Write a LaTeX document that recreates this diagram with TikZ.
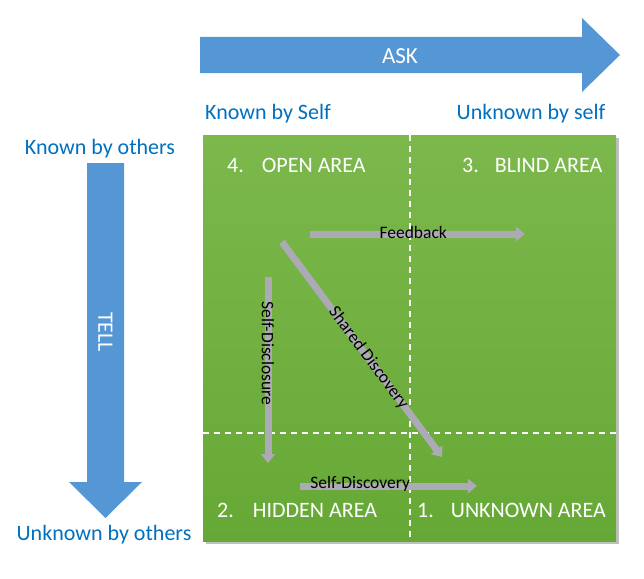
\documentclass[tikz,border=0pt]{standalone}
\usepackage{fontspec}
\setmainfont{Carlito}
\usetikzlibrary{arrows.meta}

\definecolor{bigblue}{RGB}{85,150,213}
\definecolor{headblue}{RGB}{0,112,192}
\definecolor{gtop}{RGB}{124,184,76}
\definecolor{gbot}{RGB}{102,168,54}
\definecolor{movegray}{RGB}{172,170,180}

\tikzset{
  head/.style={text=headblue, font=\fontsize{22}{26}\selectfont, inner sep=0pt},
  area/.style={text=white, font=\fontsize{22}{26}\selectfont, inner sep=0pt, anchor=west},
  move/.style={draw=movegray, line width=7pt, -{Triangle[length=9pt,width=14pt]}},
  movelabel/.style={font=\fontsize{17.5}{21}\selectfont, text=black, inner sep=0pt},
  divider/.style={white, line width=1.3pt, dash pattern=on 6pt off 5pt}
}

\begin{document}
\begin{tikzpicture}[x=1pt,y=-1pt]
\useasboundingbox (0,0) rectangle (644,578);

% window
\fill[black!25] (206,138) rectangle (619,544);
\shade[top color=gtop, bottom color=gbot] (203,135) rectangle (616,541);
\draw[divider] (410,135) -- (410,541);
\draw[divider] (203,433) -- (620,433);

% big arrows
\fill[bigblue] (200,37) -- (582,37) -- (582,18) -- (620,55) -- (582,92) -- (582,73) -- (200,73) -- cycle;
\node[text=white, font=\fontsize{23}{27}\selectfont] (ask) at (400,56) {ASK};

\fill[bigblue] (87,163) -- (124,163) -- (124,482) -- (142,482) -- (105.5,518) -- (69,482) -- (87,482) -- cycle;
\node[text=white, font=\fontsize{22}{26}\selectfont, rotate=-90] (tell) at (105.5,332) {TELL};

% headings
\node[head] (knownself) at (268,113.5) {Known by Self};
\node[head] (unknownself) at (531,113.5) {Unknown by self};
\node[head] (knownothers) at (100,148.5) {Known by others};
\node[head] (unknownothers) at (104,534.5) {Unknown by others};

% areas
\node[area] (open) at (227,165) {4.\hspace{18pt}OPEN AREA};
\node[area] (blind) at (462,165) {3.\hspace{16pt}BLIND AREA};
\node[area] (hidden) at (217,510) {2.\hspace{19pt}HIDDEN AREA};
\node[area] (unknown) at (417,510) {1.\hspace{17pt}UNKNOWN AREA};

% movements
\coordinate (fbA) at (310,234);
\coordinate (fbB) at (525,234);
\coordinate (sdA) at (268,277);
\coordinate (sdB) at (268,463);
\coordinate (shA) at (282,242);
\coordinate (shB) at (442,457);
\coordinate (dcA) at (300,486);
\coordinate (dcB) at (477,486);

\draw[move] (fbA) -- (fbB) node[movelabel, pos=0.48, yshift=2pt] (feedback) {Feedback};
\draw[move] (sdA) -- (sdB) node[movelabel, pos=0.41, sloped] (disclosure) {Self-Disclosure};
\draw[move] (shA) -- (shB) node[movelabel, pos=0.54, sloped] (shared) {Shared Discovery};
\draw[move] (dcA) -- (dcB) node[movelabel, pos=0.34, yshift=2pt] (discovery) {Self-Discovery};
\end{tikzpicture}
\end{document}
